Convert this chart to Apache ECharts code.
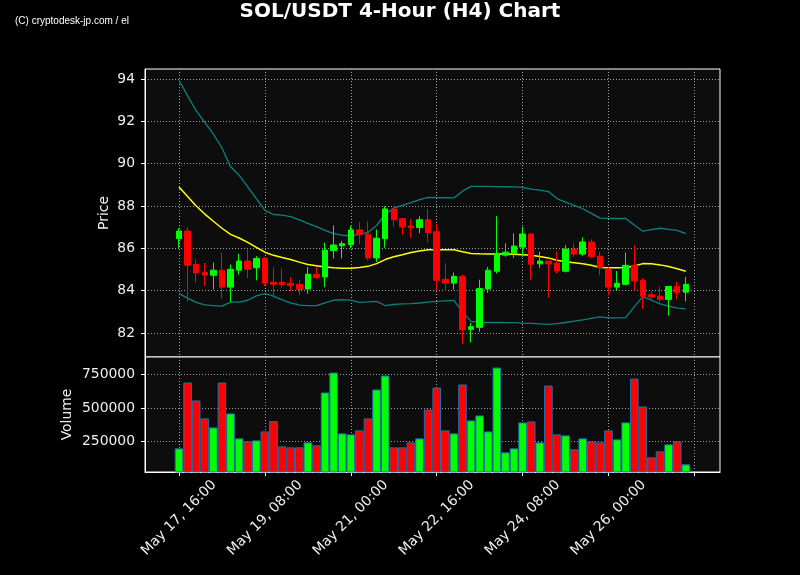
<!DOCTYPE html>
<html>
<head>
<meta charset="utf-8">
<script src="https://cdn.jsdelivr.net/npm/echarts@6/dist/echarts.min.js"></script>
<style>html,body{margin:0;padding:0;background:#000;}#c{width:800px;height:575px;}</style>
</head>
<body>
<div id="c"></div>
<script>
// ---- data (4-hour candles, index 0 = May 17 16:00) ----
const openP  = [86.46,86.82,85.24,84.87,84.73,84.97,84.17,84.97,85.40,85.08,85.54,84.40,84.40,84.35,84.30,84.08,84.78,84.65,85.89,86.12,86.17,86.87,86.67,85.55,86.46,87.86,87.40,87.06,86.98,87.35,86.78,84.54,84.36,84.68,82.17,82.27,84.08,84.92,85.68,85.76,86.06,86.68,85.27,85.40,85.30,84.92,85.97,85.73,86.30,85.63,85.01,84.17,84.30,85.20,84.49,83.81,83.74,83.59,84.20,83.93];
const closeP = [86.82,85.20,84.84,84.74,84.97,84.17,85.01,85.40,85.01,85.52,84.36,84.30,84.30,84.25,84.06,84.78,84.63,85.92,86.16,86.22,86.87,86.67,85.55,86.48,87.86,87.35,87.01,86.97,87.35,86.74,84.49,84.36,84.68,82.17,82.30,84.10,84.97,85.76,85.82,86.11,86.68,85.25,85.40,85.27,84.93,85.97,85.73,86.30,85.60,85.10,84.17,84.35,85.20,84.46,83.74,83.70,83.59,84.20,83.90,84.30];
const highP  = [86.95,87.00,85.48,85.31,85.33,85.81,85.24,85.74,85.95,85.63,85.59,85.11,85.05,84.65,84.50,85.12,85.12,86.27,87.08,86.35,87.06,87.24,87.27,86.89,87.98,87.93,87.42,87.38,87.52,87.86,87.15,85.29,84.86,84.76,82.48,84.52,85.12,87.52,86.24,86.71,87.01,86.71,85.84,85.40,85.84,86.16,86.24,86.52,86.43,85.84,85.10,84.93,85.81,86.16,84.60,83.97,84.20,84.20,84.41,84.65];
const lowP   = [86.03,83.49,84.38,84.24,84.05,83.62,83.46,84.76,84.60,84.49,84.22,83.67,84.14,83.98,83.78,83.86,84.57,84.17,85.52,85.52,86.00,86.19,85.43,85.36,86.03,87.03,86.63,86.50,86.71,86.29,84.01,83.98,84.05,81.48,81.55,82.06,83.90,84.81,85.60,85.55,85.60,84.49,85.08,83.67,84.81,84.86,85.60,85.65,85.52,84.73,83.78,84.01,84.25,84.01,83.14,83.54,83.46,82.82,83.59,83.50];
const maLine = [88.90,88.45,88.00,87.62,87.28,86.95,86.66,86.49,86.28,86.05,85.82,85.67,85.57,85.47,85.35,85.24,85.18,85.12,85.08,85.06,85.06,85.10,85.15,85.28,85.47,85.60,85.70,85.80,85.88,85.93,85.93,85.93,85.93,85.84,85.76,85.74,85.73,85.73,85.73,85.72,85.70,85.68,85.62,85.55,85.44,85.37,85.32,85.27,85.20,85.10,85.08,85.08,85.10,85.17,85.28,85.27,85.22,85.14,85.04,84.92];
const upperBand = [93.93,93.20,92.50,91.95,91.40,90.74,89.85,89.45,88.90,88.35,87.79,87.60,87.57,87.50,87.35,87.18,87.03,86.85,86.70,86.62,86.59,86.66,86.75,87.08,87.60,87.90,88.03,88.16,88.30,88.41,88.40,88.39,88.38,88.70,88.93,88.93,88.93,88.92,88.91,88.90,88.88,88.80,88.75,88.68,88.35,88.18,88.03,87.87,87.65,87.43,87.42,87.41,87.41,87.10,86.81,86.88,86.95,86.90,86.85,86.70];
const lowerBand = [83.86,83.65,83.45,83.33,83.30,83.27,83.46,83.46,83.55,83.76,83.86,83.74,83.57,83.43,83.32,83.30,83.30,83.43,83.55,83.58,83.56,83.45,83.47,83.50,83.30,83.35,83.38,83.39,83.42,83.46,83.50,83.52,83.54,83.00,82.55,82.51,82.50,82.50,82.49,82.49,82.47,82.46,82.43,82.41,82.45,82.50,82.56,82.62,82.69,82.76,82.72,82.72,82.73,83.25,83.72,83.55,83.38,83.27,83.18,83.14];
const volume = [197700,690300,556000,421600,354500,690300,459000,272400,250000,257500,324600,401500,212700,205200,205200,242500,220100,615700,764900,309700,302200,332100,421600,638100,742500,205200,205200,242500,272400,488800,653000,332100,309700,675400,406700,444000,324600,802200,167900,197700,391800,399300,242500,667900,302200,294800,190300,272400,250000,242500,332100,264900,391800,720100,511200,130600,175400,227600,250000,78400];
const xTickPos = [0,10,20,30,40,50,60];
const xTickLabels = ['May 17, 16:00','May 19, 08:00','May 21, 00:00','May 22, 16:00','May 24, 08:00','May 26, 00:00'];
const priceTicks = [82,84,86,88,90,92,94];
const volumeTicks = [250000,500000,750000];

const UP = '#00ff00', DOWN = '#ff0000';
const candleData = openP.map((o,i)=>[i,o,closeP[i],lowP[i],highP[i]]);
const toXY = arr => arr.map((v,i)=>[i,v]);
const volData = volume.map((v,i)=>({value:[i,v], itemStyle:{color: closeP[i]>=openP[i]?UP:DOWN}}));

const chart = echarts.init(document.getElementById('c'), null, {renderer:'canvas'});
const gridLine = {show:true, lineStyle:{color:'#a0a0a0', type:[1,2], width:1}};
const labelColor = '#eeeeee';
const font = 'DejaVu Sans';
const option = {
  backgroundColor:'#000000',
  animation:false,
  title:{text:'SOL/USDT 4-Hour (H4) Chart', left:'center', top:2, padding:0,
    textStyle:{color:'#ffffff', fontFamily:font, fontWeight:'bold', fontSize:20}},
  graphic:[{type:'text', left:15, top:16.5, style:{text:'(C) cryptodesk-jp.com / el', fill:'#ffffff', font:'10px "Liberation Sans"'}}],
  grid:[
    {left:145, top:69, width:575, height:288, show:true, backgroundColor:'#0d0d0d', borderColor:'#ffffff', borderWidth:1},
    {left:145, top:357, width:575, height:115, show:true, backgroundColor:'#0d0d0d', borderColor:'#ffffff', borderWidth:1}
  ],
  xAxis:[
    {type:'value', gridIndex:0, min:-3.96, max:62.98, axisLine:{show:false, onZero:false}, axisLabel:{show:false},
     axisTick:{show:false, customValues:xTickPos}, splitLine:gridLine},
    {type:'value', gridIndex:1, min:-3.96, max:62.98,
     axisLine:{show:true, onZero:false, lineStyle:{color:'#ffffff'}},
     axisTick:{show:true, customValues:xTickPos, length:4, lineStyle:{color:'#ffffff'}},
     axisLabel:{show:true, customValues:xTickPos.slice(0,xTickLabels.length), rotate:45, align:'center', verticalAlign:'middle', margin:46,
       color:labelColor, fontFamily:font, fontSize:13.9,
       formatter:v=>xTickLabels[xTickPos.indexOf(v)] || ''},
     splitLine:gridLine}
  ],
  yAxis:[
    {type:'value', gridIndex:0, min:80.87, max:94.47, name:'Price', nameLocation:'middle', nameGap:34, nameMoveOverlap:false,
     nameTextStyle:{color:labelColor, fontFamily:font, fontSize:13.9},
     axisLine:{show:true, onZero:false, lineStyle:{color:'#ffffff'}},
     axisTick:{show:true, customValues:priceTicks, length:4, lineStyle:{color:'#ffffff'}},
     axisLabel:{customValues:priceTicks, color:labelColor, fontFamily:font, fontSize:13.9, margin:10},
     splitLine:gridLine},
    {type:'value', gridIndex:1, min:20900, max:881300, name:'Volume', nameLocation:'middle', nameGap:70.5, nameMoveOverlap:false,
     nameTextStyle:{color:labelColor, fontFamily:font, fontSize:13.9},
     axisLine:{show:true, onZero:false, lineStyle:{color:'#ffffff'}},
     axisTick:{show:true, customValues:volumeTicks, length:4, lineStyle:{color:'#ffffff'}},
     axisLabel:{customValues:volumeTicks, color:labelColor, fontFamily:font, fontSize:13.9, margin:10, formatter:v=>String(v)},
     splitLine:gridLine}
  ],
  series:[
    {type:'line', name:'Upper', xAxisIndex:0, yAxisIndex:0, data:toXY(upperBand), showSymbol:false, symbol:'none',
     lineStyle:{color:'#0e8080', width:1.3}, z:2},
    {type:'line', name:'Lower', xAxisIndex:0, yAxisIndex:0, data:toXY(lowerBand), showSymbol:false, symbol:'none',
     lineStyle:{color:'#0e8080', width:1.3}, z:2},
    {type:'line', name:'MA', xAxisIndex:0, yAxisIndex:0, data:toXY(maLine), showSymbol:false, symbol:'none',
     lineStyle:{color:'#ffff00', width:1.5}, z:3},
    {type:'candlestick', xAxisIndex:0, yAxisIndex:0, data:candleData,
     dimensions:['x','open','close','lowest','highest'], encode:{x:0, y:[1,2,3,4]},
     barWidth:6,
     itemStyle:{color:UP, color0:DOWN, borderColor:UP, borderColor0:DOWN, borderWidth:1}, z:4},
    {type:'bar', xAxisIndex:1, yAxisIndex:1, data:volData, barWidth:8.6,
     itemStyle:{borderColor:'#1f6fb0', borderWidth:1}}
  ]
};
chart.setOption(option);
</script>
</body>
</html>
